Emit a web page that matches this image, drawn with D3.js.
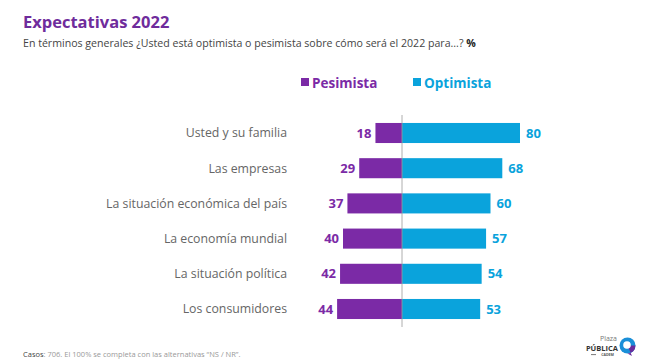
<html>
<head>
<meta charset="utf-8">
<title>Expectativas 2022</title>
<style>
  body { margin: 0; background: #fff; }
  text { font-family: "Open Sans", sans-serif; }
</style>
<script src="https://d3js.org/d3.v7.min.js"></script>
</head>
<body>
<svg width="650" height="361"></svg>
<script>
var categories = ["Usted y su familia", "Las empresas", "La situación económica del país",
                  "La economía mundial", "La situación política", "Los consumidores"];
var pesimista = [18, 29, 37, 40, 42, 44];
var optimista = [80, 68, 60, 57, 54, 53];
var seriesNames = ["Pesimista", "Optimista"];

var purple = "#7b2aa6", blue = "#0aa3dc";

var svg = d3.select("svg");
svg.append("rect").attr("width", 650).attr("height", 361).attr("fill", "#fff");

var xScale = d3.scaleLinear().domain([-80, 80]).range([402 - 118, 402 + 118]);
var yScale = d3.scaleBand()
    .domain(categories)
    .range([115.4, 326.6])
    .paddingInner(0.43)
    .paddingOuter(0.215);

// title
svg.append("text")
    .attr("x", 23).attr("y", 28)
    .text("Expectativas 2022")
    .style("font-size", "16.5px").style("font-weight", "700")
    .attr("fill", "#6f2c9c");
var sub = svg.append("text")
    .attr("x", 23).attr("y", 47)
    .style("font-size", "10.6px")
    .attr("fill", "#444");
sub.append("tspan").text("En términos generales ¿Usted está optimista o pesimista sobre cómo será el 2022 para...? ");
sub.append("tspan").text("%").style("font-weight", "700").attr("fill", "#222");

// legend
var legend = svg.append("g");
[[seriesNames[0], purple, 301], [seriesNames[1], blue, 413]].forEach(function (d) {
  legend.append("rect").attr("x", d[2]).attr("y", 78).attr("width", 8).attr("height", 8).attr("fill", d[1]);
  legend.append("text").attr("x", d[2] + 11).attr("y", 87.5).text(d[0])
    .style("font-size", "13.5px").style("font-weight", "700").attr("fill", d[1]);
});

var g = svg.append("g");
var rows = g.selectAll(".row").data(categories).enter().append("g").attr("class", "row");

rows.append("rect")
    .attr("x", (d, i) => xScale(-pesimista[i]))
    .attr("y", d => yScale(d))
    .attr("width", (d, i) => xScale(0) - xScale(-pesimista[i]))
    .attr("height", yScale.bandwidth())
    .attr("fill", purple);
rows.append("rect")
    .attr("x", xScale(0))
    .attr("y", d => yScale(d))
    .attr("width", (d, i) => xScale(optimista[i]) - xScale(0))
    .attr("height", yScale.bandwidth())
    .attr("fill", blue);

rows.append("text")
    .attr("x", 287)
    .attr("y", d => yScale(d) + yScale.bandwidth() / 2)
    .attr("dy", "0.35em")
    .attr("text-anchor", "end")
    .text(d => d)
    .style("font-size", "12.3px")
    .attr("fill", "#666");

rows.append("text")
    .attr("x", (d, i) => xScale(-pesimista[i]) - 4)
    .attr("y", d => yScale(d) + yScale.bandwidth() / 2)
    .attr("dy", "0.35em")
    .attr("text-anchor", "end")
    .text((d, i) => pesimista[i])
    .style("font-size", "13px").style("font-weight", "700")
    .attr("fill", purple);
rows.append("text")
    .attr("x", (d, i) => xScale(optimista[i]) + 6)
    .attr("y", d => yScale(d) + yScale.bandwidth() / 2)
    .attr("dy", "0.35em")
    .text((d, i) => optimista[i])
    .style("font-size", "13px").style("font-weight", "700")
    .attr("fill", blue);

// zero line
g.append("line")
    .attr("x1", xScale(0)).attr("x2", xScale(0))
    .attr("y1", 115).attr("y2", 327)
    .attr("stroke", "#999").attr("stroke-width", 0.8);

// footer
var foot = svg.append("text").attr("x", 23).attr("y", 357)
    .style("font-size", "7.5px").attr("fill", "#999");
foot.append("tspan").text("Casos").attr("fill", "#444");
foot.append("tspan").text(": 706. El 100% se completa con las alternativas \u201cNS / NR\u201d.");

// logo
var logo = svg.append("g");
logo.append("text").attr("x", 617).attr("y", 340.5).attr("text-anchor", "end")
    .text("Plaza").style("font-size", "7px").attr("fill", "#777");
logo.append("text").attr("x", 618).attr("y", 350.5).attr("text-anchor", "end")
    .text("PÚBLICA").style("font-size", "7.5px").style("font-weight", "700").attr("fill", "#333");
logo.append("text").attr("x", 614).attr("y", 355.8).attr("text-anchor", "end")
    .text("CADEM").style("font-size", "3.6px").style("font-weight", "700").attr("fill", "#555");
logo.append("line").attr("x1", 591).attr("x2", 596).attr("y1", 354.6).attr("y2", 354.6)
    .attr("stroke", "#555").attr("stroke-width", 0.8);
logo.append("circle").attr("cx", 627.5).attr("cy", 345.5).attr("r", 8).attr("fill", "#1a8fd8");
logo.append("path").attr("d", "M627.5,345.5 L635.5,345.5 A8,8 0 0 1 627.5,353.5 L632,356 Z").attr("fill", "#6a2c9c");
logo.append("circle").attr("cx", 627).attr("cy", 345).attr("r", 3.8).attr("fill", "#fff");
</script>
</body>
</html>
